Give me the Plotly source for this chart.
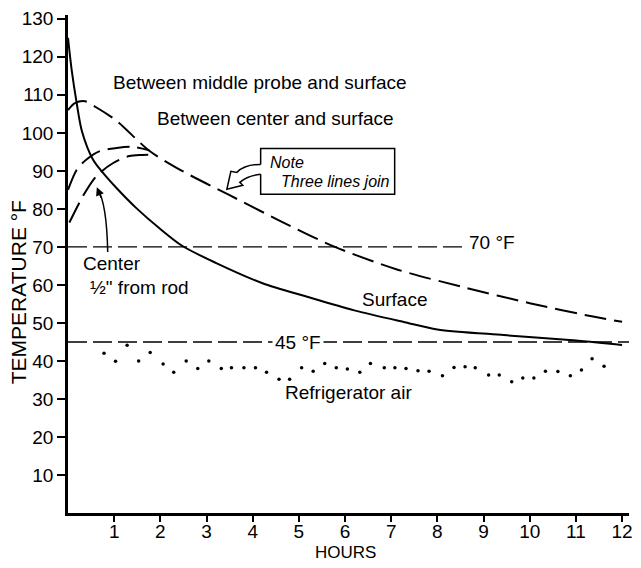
import plotly.graph_objects as go

# Hours since the roast went into the refrigerator and temperatures (°F)
surface_h = [0, 0.08, 0.19, 0.3, 0.54, 0.75, 1.05, 1.48, 1.98, 2.47, 3.2, 4.2, 5.2, 6.2, 7.29, 8.0, 9.44, 10.86, 12.0]
surface_t = [125, 116.5, 107.7, 100.5, 93.0, 89.6, 85.5, 80.2, 74.9, 70.3, 65.8, 60.5, 56.8, 53.3, 50.2, 48.3, 46.8, 45.5, 44.2]

middle_probe_h = [0, 0.15, 0.37, 0.6, 1.05, 1.76, 2.47, 3.5, 4.6, 5.78, 7.14, 8.6, 10.0, 11.4, 12.0]
middle_probe_t = [106, 107.8, 108.3, 106.8, 103.2, 95.3, 90.0, 83.6, 76.8, 70.0, 64.0, 59.3, 55.2, 51.6, 50.3]

center_h = [0, 0.19, 0.4, 0.69, 1.05, 1.4, 1.76]
center_t = [85, 90.3, 93.0, 95.2, 96.0, 96.3, 95.4]

rod_h = [0.03, 0.33, 0.62, 0.97, 1.33, 1.6, 1.9]
rod_t = [76.4, 83.5, 88.7, 92.0, 93.9, 94.2, 94.3]

air_h = [0.78, 1.03, 1.28, 1.53, 1.78, 2.06, 2.29, 2.56, 2.81, 3.05, 3.32, 3.54, 3.81, 4.06,
         4.3, 4.57, 4.8, 5.06, 5.31, 5.56, 5.81, 6.05, 6.32, 6.55, 6.85, 7.08, 7.32, 7.58,
         7.82, 8.11, 8.36, 8.6, 8.82, 9.11, 9.34, 9.61, 9.85, 10.09, 10.34, 10.61, 10.88,
         11.12, 11.35, 11.61]
air_t = [42.0, 39.9, 44.1, 40.0, 42.2, 39.2, 37.0, 40.0, 38.0, 40.0, 38.0, 38.2, 38.2, 38.2,
         37.0, 35.2, 35.2, 38.2, 37.3, 39.3, 38.2, 37.9, 37.0, 39.3, 38.2, 38.2, 38.0, 37.4,
         37.3, 36.1, 38.3, 38.5, 38.2, 36.3, 36.3, 34.5, 35.5, 35.5, 37.3, 37.2, 36.1,
         37.6, 40.6, 38.6]

ref_70_h = [0, 8.6]
ref_70_t = [70, 70]
ref_45_h = [0, 12.15]
ref_45_t = [45, 45]

x_ticks = list(range(1, 13))
y_ticks = list(range(10, 131, 10))

FONT = "Liberation Sans"
INK = "black"

# plot-area geometry in pixels (used for placing labels and callouts)
L, R, T, B = 68, 8, 13, 55
W, H = 641, 568
PW, PH = W - L - R, H - T - B


def paper(px, py):
    return (px - L) / PW, (H - B - py) / PH


def path(points):
    """SVG path in paper units from pixel commands."""
    out = []
    for item in points:
        if isinstance(item, str):
            out.append(item)
        else:
            x, y = paper(*item)
            out.append(f"{x:.4f},{y:.4f}")
    return " ".join(out)


fig = go.Figure()

dash_curve = "22px,8px"
dash_ref = "19px,6px"

fig.add_trace(go.Scatter(x=ref_70_h, y=ref_70_t, mode="lines",
                         line=dict(color=INK, width=1.4, dash=dash_ref)))
fig.add_trace(go.Scatter(x=ref_45_h, y=ref_45_t, mode="lines",
                         line=dict(color=INK, width=1.4, dash=dash_ref)))

for hx, ty in [(middle_probe_h, middle_probe_t), (center_h, center_t), (rod_h, rod_t)]:
    fig.add_trace(go.Scatter(x=hx, y=ty, mode="lines",
                             line=dict(color=INK, width=2, dash=dash_curve,
                                       shape="spline", smoothing=0.8)))

fig.add_trace(go.Scatter(x=surface_h, y=surface_t, mode="lines",
                         line=dict(color=INK, width=2, shape="spline", smoothing=0.8)))

fig.add_trace(go.Scatter(x=air_h, y=air_t, mode="markers",
                         marker=dict(color=INK, size=3.5)))

ann = []


def label(text, px, py, size=19, anchor="center", **kw):
    x, y = paper(px, py)
    ann.append(dict(text=text, x=x, y=y, xref="paper", yref="paper", showarrow=False,
                    xanchor=anchor, yanchor="middle",
                    font=dict(family=FONT, size=size, color=INK), **kw))


label("Between middle probe and surface", 261, 81)
label("Between center and surface", 277, 117)
label("<i>Note</i>", 269, 161, size=16, anchor="left")
label("<i>Three lines join</i>", 281, 180, size=16, anchor="left")
label("Center", 112, 262)
label("½\" from rod", 140, 287)
label("Surface", 397, 299)
label("Refrigerator air", 350, 392)
label("70 °F", 495, 241)
label("45 °F", 300, 342, bgcolor="white", borderpad=2)
label("HOURS", 347, 553, size=17)
label("TEMPERATURE °F", 19, 291, size=21, textangle=-90)

# arrowhead at the end of the "Center" pointer
tx, ty = paper(97, 186)
ann.append(dict(x=tx, y=ty, xref="paper", yref="paper", text="", showarrow=True,
                ax=5, ay=12, arrowhead=2, arrowsize=1.1, arrowwidth=1.5, arrowcolor=INK))

shapes = [
    # pointer from the "Center" label
    dict(type="path", xref="paper", yref="paper",
         path=path(["M", (108, 251), "Q", (107, 202), (98, 188)]),
         line=dict(color=INK, width=1.5)),
    # note box, open where the arrow leaves it
    dict(type="path", xref="paper", yref="paper",
         path=path(["M", (262, 163), "L", (262, 147), "L", (397, 147), "L", (397, 193),
                    "L", (262, 193), "L", (262, 173)]),
         line=dict(color=INK, width=1.5)),
    # hollow curved arrow pointing at the joined curves
    dict(type="path", xref="paper", yref="paper",
         path=path(["M", (262, 163), "Q", (246, 163), (238, 171), "L", (232, 170),
                    "L", (228, 188), "L", (244, 184), "L", (241, 181),
                    "Q", (249, 174), (262, 173)]),
         line=dict(color=INK, width=1.5)),
]

fig.update_layout(
    width=W, height=H,
    margin=dict(l=L, r=R, t=T, b=B),
    paper_bgcolor="white", plot_bgcolor="white",
    showlegend=False,
    annotations=ann,
    shapes=shapes,
    font=dict(family=FONT, size=18, color=INK),
)

fig.update_xaxes(range=[0, 12.15], tickvals=x_ticks, ticktext=[str(v) for v in x_ticks],
                 showgrid=False, zeroline=False, showline=True, linecolor=INK, linewidth=2.5,
                 ticks="outside", ticklen=6, tickwidth=1.5, tickcolor=INK,
                 ticklabelstandoff=-7,
                 tickfont=dict(family=FONT, size=19, color=INK))
fig.update_yaxes(range=[0, 131], tickvals=y_ticks, ticktext=[str(v) for v in y_ticks],
                 showgrid=False, zeroline=False, showline=True, linecolor=INK, linewidth=2.5,
                 ticks="outside", ticklen=8, tickwidth=1.5, tickcolor=INK,
                 tickfont=dict(family=FONT, size=19, color=INK))

fig.write_html("out.html")
